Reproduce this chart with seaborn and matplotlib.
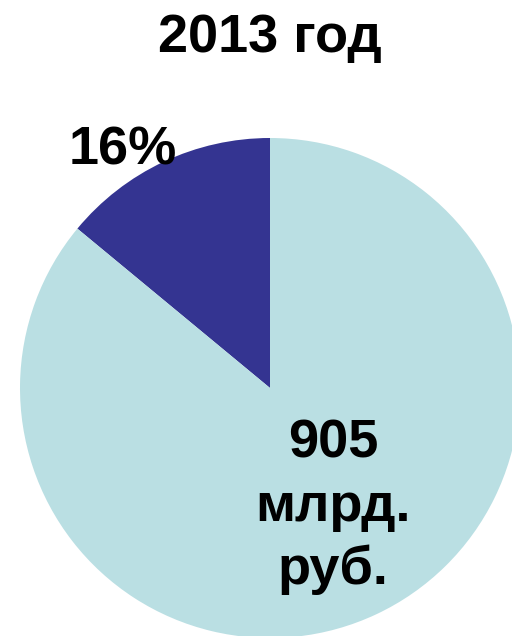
import seaborn as sns
import matplotlib
matplotlib.use("Agg")
import matplotlib.pyplot as plt

# data
segments = ["прочее", "остальное"]
shares = [14, 86]
share_label = "16%"
total_label = "905\nмлрд.\nруб."
title = "2013 год"
colors = ["#343491", "#BADFE3"]

sns.set_theme(style="white")
plt.rcParams['font.family'] = ['Liberation Sans', 'DejaVu Sans']
plt.rcParams['text.color'] = 'black'

fig = plt.figure(figsize=(5.12, 6.36), dpi=100)
ax = fig.add_axes([20/512, -2/636, 500/512, 500/636])
ax.pie(shares, colors=colors, startangle=90, counterclock=True,
       wedgeprops={'linewidth': 0})
ax.set_xlim(-1, 1)
ax.set_ylim(-1, 1)
ax.set_aspect('equal')
ax.axis('off')

fig.text(270/512, 1 - 38/636, title, ha='center', va='center',
         fontsize=39, fontweight='bold', color='black')
fig.text(123/512, 1 - 150/636, share_label, ha='center', va='center',
         fontsize=39, fontweight='bold', color='black')
fig.text(333/512, 1 - 507/636, total_label, ha='center', va='center',
         fontsize=39, fontweight='bold', color='black', linespacing=1.33)

fig.savefig("out.png", dpi=100)
